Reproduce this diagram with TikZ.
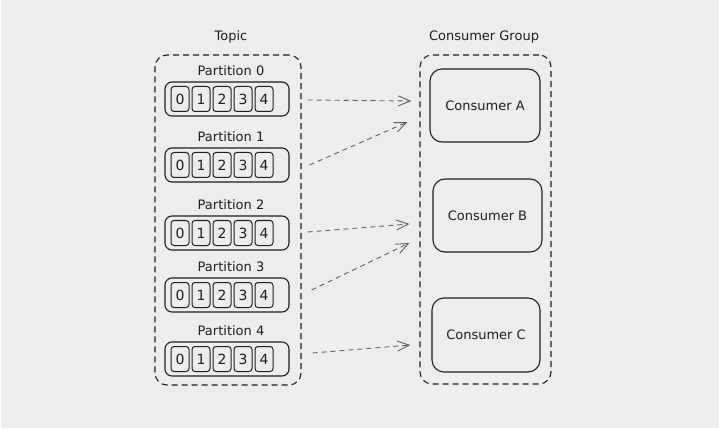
\documentclass[tikz,border=0pt]{standalone}
\usepackage{fontspec}
\setmainfont{DejaVu Sans}
\usetikzlibrary{arrows.meta,calc}
\definecolor{bggrey}{RGB}{237,237,237}
\definecolor{ink}{RGB}{30,30,30}
\definecolor{arrowgrey}{RGB}{95,95,95}

\begin{document}
\begin{tikzpicture}[x=1pt, y=-1pt, >={Straight Barb[length=12pt,width=10pt]},
  txt/.style={font=\fontsize{13}{15}\selectfont, text=ink},
  group/.style={draw=ink, line width=1.1pt, dash pattern=on 6pt off 4pt, rounded corners=12pt, inner sep=0pt},
  row/.style={draw=ink, line width=1.1pt, rounded corners=7pt, minimum width=124pt, minimum height=34pt, inner sep=0pt},
  cell/.style={draw=ink, line width=1pt, rounded corners=3pt, minimum width=18pt, minimum height=25pt, inner sep=0pt, font=\fontsize{14}{16}\selectfont, text=ink},
  consumer/.style={draw=ink, line width=1.1pt, rounded corners=12pt, minimum width=109pt, minimum height=73pt, txt},
  flow/.style={->, draw=arrowgrey, line width=0.9pt, dash pattern=on 5pt off 4pt}]
\fill[white] (0,0) rectangle (719,430);
\fill[bggrey] (1,0) rectangle (719,428);
% topic side
\node[txt] (topiclbl) at (231,37) {Topic};
\node[group, minimum width=146pt, minimum height=330pt] (topicbox) at (228,220) {};
\foreach \i/\y in {0/99,1/165,2/233,3/295,4/359} {
  \node[txt] (plbl\i) at (231,\y-28) {Partition \i};
  \node[row] (part\i) at (227,\y) {};
  \foreach \j in {0,...,4}
    \node[cell] (p\i c\j) at (180+21*\j,\y) {\j};
}
% consumer side
\node[txt] (grouplbl) at (484,37) {Consumer Group};
\node[group, minimum width=131pt, minimum height=329pt] (groupbox) at (485.5,219.5) {};
\node[consumer, minimum width=110pt] (consA) at (485,105.5) {Consumer A};
\node[consumer] (consB) at (487.5,215.5) {Consumer B};
\node[consumer, minimum width=108pt, minimum height=74pt] (consC) at (486,335) {Consumer C};
\foreach \i/\c/\sx/\sy/\ex/\ey in {0/A/18/1/-18/-4.5, 1/A/20/0/-22/16.5, 2/B/18/-1/-23/8.5, 3/B/22/-5/-23/27.5, 4/C/23/-6/-21/10}
  \draw[flow] ($(part\i.east)+(\sx,\sy)$) -- ($(cons\c.west)+(\ex,\ey)$);
\end{tikzpicture}
\end{document}
